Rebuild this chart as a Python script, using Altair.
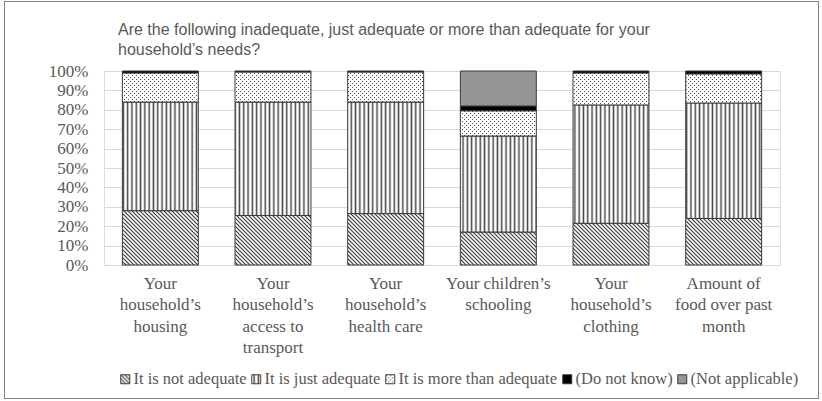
import altair as alt
import pandas as pd
import jinja2

# ---- data (percent of respondents) ----
categories = [
    "Your|household’s|housing",
    "Your|household’s|access to|transport",
    "Your|household’s|health care",
    "Your children’s|schooling",
    "Your|household’s|clothing",
    "Amount of|food over past|month",
]
responses = [
    "It is not adequate",
    "It is just adequate",
    "It is more than adequate",
    "(Do not know)",
    "(Not applicable)",
]
not_adequate = [28.0, 25.5, 26.5, 17.0, 21.5, 24.0]
just_adequate = [56.0, 58.5, 57.5, 49.5, 61.0, 59.5]
more_than_adequate = [15.0, 15.5, 15.5, 13.0, 16.5, 15.0]
do_not_know = [1.0, 0.5, 0.5, 2.5, 1.0, 1.5]
not_applicable = [0.0, 0.0, 0.0, 18.0, 0.0, 0.0]
y_ticks = [0, 0.1, 0.2, 0.3, 0.4, 0.5, 0.6, 0.7, 0.8, 0.9, 1.0]

title_lines = [
    "Are the following inadequate, just adequate or more than adequate for your",
    "household’s needs?",
]

series = [not_adequate, just_adequate, more_than_adequate, do_not_know, not_applicable]
rows = []
for k, (resp, vals) in enumerate(zip(responses, series)):
    for cat, v in zip(categories, vals):
        if v > 0:
            rows.append({"category": cat, "response": resp, "share": v / 100.0, "idx": k})
df = pd.DataFrame(rows)

fills = ["url(#pNot)", "url(#pJust)", "url(#pMore)", "#000000", "#969696"]

GREY = "#595959"
SERIF = "Liberation Serif"

bars = alt.Chart(df).mark_bar(stroke="#3a3a3a", strokeWidth=1).encode(
    x=alt.X(
        "category:N",
        sort=categories,
        title=None,
        scale=alt.Scale(paddingInner=0.326, paddingOuter=0.163),
        axis=alt.Axis(
            labelExpr="split(datum.label, '|')",
            labelAngle=0,
            labelFont=SERIF,
            labelFontSize=17,
            labelColor=GREY,
            labelLineHeight=21.5,
            labelPadding=10,
            ticks=False,
            domain=False,
            grid=False,
        ),
    ),
    y=alt.Y(
        "share:Q",
        stack=True,
        title=None,
        scale=alt.Scale(domain=[0, 1]),
        axis=alt.Axis(
            format=".0%",
            values=y_ticks,
            labelFont=SERIF,
            labelFontSize=17,
            labelColor=GREY,
            labelPadding=16,
            ticks=False,
            domain=False,
            grid=True,
            gridColor="#d9d9d9",
            gridWidth=1,
        ),
    ),
    color=alt.Color(
        "response:N",
        scale=alt.Scale(domain=responses, range=fills),
        legend=alt.Legend(
            title=None,
            orient="none",
            legendX=13,
            legendY=300,
            padding=0,
            direction="horizontal",
            columns=5,
            gridAlign="none",
            symbolType="square",
            symbolSize=81,
            symbolStrokeColor="#3a3a3a",
            symbolStrokeWidth=1,
            labelFont=SERIF,
            labelFontSize=16.5,
            labelColor=GREY,
            labelLimit=400,
            labelOffset=0,
            columnPadding=1,
        ),
    ),
    order=alt.Order("idx:Q"),
)

chart = bars.properties(
    width=676,
    height=194,
    autosize="none",
    padding={"left": 99, "top": 69, "right": 37, "bottom": 132},
    title=alt.Title(
        text=title_lines,
        anchor="start",
        frame="group",
        font="Liberation Sans",
        fontSize=16,
        fontWeight="normal",
        color=GREY,
        lineHeight=20,
        dx=14,
        offset=4,
    ),
).configure_view(stroke=None).configure(
    background="white"
).configure_axis(labelFont=SERIF).configure_legend(labelFont=SERIF)

PAGE = jinja2.Template("""<!DOCTYPE html>
<html>
<head>
<meta charset="utf-8">
<style>
  body { margin: 0; background: white; }
  #frame { position: absolute; left: 4px; top: 1px; width: 813px; height: 396px;
           border: 1px solid #7f7f7f; box-sizing: content-box; }
  #{{ output_div }} { position: absolute; left: 5px; top: 2px; }
</style>
<script type="text/javascript" src="{{ base_url }}/vega@{{ vega_version }}"></script>
<script type="text/javascript" src="{{ base_url }}/vega-lite@{{ vegalite_version }}"></script>
<script type="text/javascript" src="{{ base_url }}/vega-embed@{{ vegaembed_version }}"></script>
</head>
<body>
<svg width="0" height="0" style="position:absolute;left:0;top:0" aria-hidden="true">
  <defs>
    <pattern id="pNot" patternUnits="userSpaceOnUse" width="4" height="4">
      <rect x="0" y="0" width="4" height="4" fill="#ffffff"/>
      <path d="M-1,-1 L5,5 M-1,3 L1,5 M3,-1 L5,1" stroke="#3c3c3c" stroke-width="1.2"/>
    </pattern>
    <pattern id="pJust" patternUnits="userSpaceOnUse" width="4.3" height="4">
      <rect x="0" y="0" width="4.3" height="4" fill="#ffffff"/>
      <rect x="1.4" y="0" width="1.5" height="4" fill="#444444"/>
    </pattern>
    <pattern id="pMore" patternUnits="userSpaceOnUse" width="4" height="4">
      <rect x="0" y="0" width="4" height="4" fill="#ffffff"/>
      <rect x="0" y="0" width="1" height="1" fill="#4a4a4a"/>
      <rect x="2" y="2" width="1" height="1" fill="#4a4a4a"/>
    </pattern>
  </defs>
</svg>
<div id="frame"></div>
<div id="{{ output_div }}"></div>
<script>
  (function(vegaEmbed) {
    var spec = {{ spec }};
    var embedOpt = {{ embed_options }};
    vegaEmbed("#{{ output_div }}", spec, embedOpt).catch(function(err) {
      document.getElementById("{{ output_div }}").innerHTML = '<div style="color:red;">' + err.message + '</div>';
    });
  })(vegaEmbed);
</script>
</body>
</html>
""")

chart.save("out.html", embed_options={"renderer": "svg", "actions": False}, template=PAGE)
